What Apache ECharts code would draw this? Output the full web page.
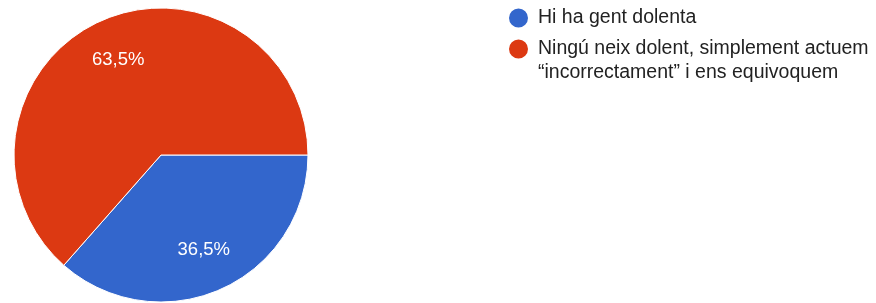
<!DOCTYPE html>
<html>
<head>
<meta charset="utf-8">
<script src="https://cdn.jsdelivr.net/npm/echarts@6/dist/echarts.min.js"></script>
<style>
html,body{margin:0;padding:0;background:#fff;}
#chart{width:876px;height:303px;}
</style>
</head>
<body>
<div id="chart"></div>
<script>
const categories = ['Hi ha gent dolenta', 'Ningú neix dolent, simplement actuem “incorrectament” i ens equivoquem'];
const legendText = ['Hi ha gent dolenta', '\nNingú neix dolent, simplement actuem\n“incorrectament” i ens equivoquem'];
const values = [36.5, 63.5];
const valueLabels = ['36,5%', '63,5%'];
const colors = ['#3366cc', '#dc3912'];

const FONT = "'Liberation Sans', Arial, sans-serif";
const chart = echarts.init(document.getElementById('chart'), null, {renderer: 'canvas'});

const pieData = categories.map((c, i) => ({name: c, value: values[i], itemStyle: {color: colors[i]}}));
const labelData = categories.map((c, i) => ({name: c, value: values[i]}));

chart.setOption({
  animation: false,
  legend: {
    orient: 'vertical',
    left: 507,
    top: 6,
    padding: 0,
    itemWidth: 21,
    itemHeight: 21,
    itemGap: -17,
    icon: 'circle',
    selectedMode: false,
    formatter: function (name) { return legendText[categories.indexOf(name)]; },
    textStyle: {fontFamily: FONT, fontSize: 19.5, color: '#222222', lineHeight: 24, padding: [0, 0, 0, 4]},
    data: [{name: categories[0]}, {name: categories[1]}]
  },
  series: [
    {
      type: 'pie',
      center: [161, 155],
      radius: [0, 147],
      startAngle: 0,
      clockwise: true,
      silent: true,
      label: {show: false},
      labelLine: {show: false},
      itemStyle: {borderColor: '#ffffff', borderWidth: 1},
      emphasis: {disabled: true},
      data: pieData
    },
    {
      type: 'pie',
      center: [161, 155],
      radius: [55, 147],
      startAngle: 0,
      clockwise: true,
      silent: true,
      itemStyle: {color: 'rgba(0,0,0,0)', borderWidth: 0},
      label: {
        show: true,
        position: 'inside',
        color: '#ffffff',
        fontFamily: FONT,
        fontSize: 18.5,
        formatter: function (p) { return valueLabels[p.dataIndex]; }
      },
      labelLine: {show: false},
      emphasis: {disabled: true},
      data: labelData
    }
  ]
});
</script>
</body>
</html>
